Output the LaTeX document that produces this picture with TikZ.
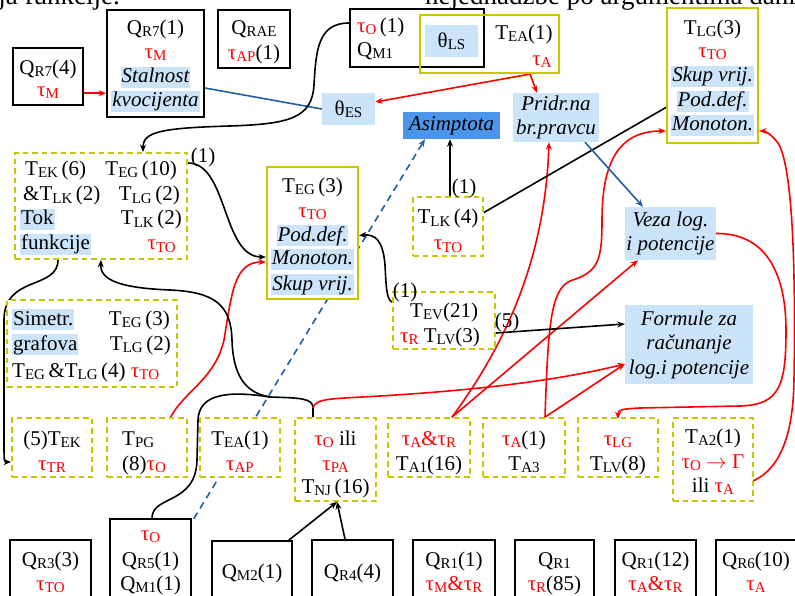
\documentclass[tikz,border=0pt]{standalone}
\usepackage{fontspec}
\setmainfont{Liberation Serif}
\usetikzlibrary{arrows.meta}
\definecolor{yel}{RGB}{200,200,0}
\definecolor{hl}{RGB}{204,228,250}
\definecolor{asimc}{RGB}{75,150,235}
\definecolor{bline}{RGB}{30,95,165}
\definecolor{rd}{RGB}{255,0,0}
\newcommand\dgf{\fontsize{21}{24.5}\selectfont}
\newcommand\sbx[1]{\raisebox{-2pt}{\fontsize{15}{15}\selectfont #1}}
\newcommand\rtau[1]{\textcolor{rd}{τ\sbx{#1}}}
\pgfdeclarelayer{back}
\pgfdeclarelayer{conn}
\pgfsetlayers{back,conn,main}
\begin{document}
\begin{tikzpicture}[x=1pt,y=-1pt,
 every node/.style={font=\dgf, inner sep=0pt},
 qb/.style={draw=black, line width=1.7pt, fill=white},
 qn/.style={draw=black, line width=1.7pt},
 ys/.style={draw=yel, line width=2.2pt, fill=white},
 yn/.style={draw=yel, line width=2.2pt},
 yd/.style={draw=yel, line width=1.8pt, dash pattern=on 5.5pt off 4pt, fill=white},
 hlf/.style={fill=hl, align=center},
 tx/.style={anchor=base},
 txw/.style={anchor=base west},
 txe/.style={anchor=base east},
 hli/.style={anchor=base, fill=hl, inner xsep=1pt, text height=16pt, text depth=5pt, font=\dgf\itshape},
 hlw/.style={anchor=base west, fill=hl, inner xsep=1pt, text height=16pt, text depth=5pt},
 con/.style={line width=1.6pt, -{Stealth[length=7.5pt,width=6pt]}},
 blk/.style={con, draw=black},
 rdl/.style={con, draw=rd},
 bll/.style={con, draw=bline},
]
\begin{pgfonlayer}{back}
\fill[white] (0,0) rectangle (795,596);
\end{pgfonlayer}
\useasboundingbox (0,0) rectangle (795,596);

% header (cut off page text)
\node[anchor=base east, font=\fontsize{27}{30}\selectfont] (hdrL) at (120,5) {nja funkcije.};
\node[anchor=base west, font=\fontsize{27}{30}\selectfont] (hdrR) at (425,5) {nejednadžbe po argumentima danih};

% ---------- boxes ----------
\node[qb, minimum width=70pt, minimum height=57pt] (qr74) at (48,76.5) {};
\node[qb, minimum width=97pt, minimum height=107pt] (qr71) at (155.5,63.5) {};
\node[qb, minimum width=72pt, minimum height=58pt] (qrae) at (254,39) {};
\node[qn, minimum width=134pt, minimum height=58pt] (tom1) at (417,38) {};
\node[yn, minimum width=139pt, minimum height=58pt] (yea) at (489.5,44) {};
\node[ys, minimum width=91pt, minimum height=135pt] (tlg3) at (712.5,75.5) {};
\node[yd, minimum width=172pt, minimum height=106pt] (tek) at (101,206) {};
\node[ys, minimum width=91pt, minimum height=132pt] (teg3) at (312.5,233) {};
\node[yd, minimum width=70pt, minimum height=59pt] (tlk4) at (448,226.5) {};
\node[yd, minimum width=102pt, minimum height=57pt] (tev) at (444,320.5) {};
\node[yd, minimum width=170pt, minimum height=87pt] (sim) at (92,343.5) {};
\node[yd, minimum width=80pt, minimum height=59pt] (b1) at (52,447.5) {};
\node[yd, minimum width=80pt, minimum height=59pt] (b2) at (147,447.5) {};
\node[yd, minimum width=80pt, minimum height=59pt] (b3) at (240,447.5) {};
\node[yd, minimum width=81pt, minimum height=83pt] (b4) at (335.5,459.5) {};
\node[yd, minimum width=82pt, minimum height=59pt] (b5) at (429,447.5) {};
\node[yd, minimum width=82pt, minimum height=59pt] (b6) at (524,447.5) {};
\node[yd, minimum width=80pt, minimum height=59pt] (b7) at (618,447.5) {};
\node[yd, minimum width=80pt, minimum height=83pt] (b8) at (713,459.5) {};
\node[qb, minimum width=81pt, minimum height=80pt] (qr3) at (50.5,580) {};
\node[qb, minimum width=81pt, minimum height=101pt] (qr5) at (150.5,569.5) {};
\node[qb, minimum width=80pt, minimum height=79pt] (qm2) at (252,580.5) {};
\node[qb, minimum width=81pt, minimum height=80pt] (qr4) at (352.5,580) {};
\node[qb, minimum width=82pt, minimum height=80pt] (qr1a) at (454,580) {};
\node[qb, minimum width=79pt, minimum height=80pt] (qr1b) at (554.5,580) {};
\node[qb, minimum width=81pt, minimum height=80pt] (qr1c) at (655.5,580) {};
\node[qb, minimum width=81pt, minimum height=80pt] (qr6) at (756.5,580) {};

% filled label boxes
\node[hlf, minimum width=53pt, minimum height=32pt] (thLS) at (451.5,41) {θ\sbx{LS}};
\node[hlf, minimum width=53pt, minimum height=32pt] (thES) at (348.5,109) {θ\sbx{ES}};
\node[fill=asimc, font=\dgf\itshape, minimum width=97pt, minimum height=27pt] (asim) at (451.5,125.5) {Asimptota};
\node[hlf, font=\dgf\itshape, minimum width=86pt, minimum height=49pt] (pridr) at (556,117.5) {Pridr.na\\br.pravcu};
\node[hlf, font=\dgf\itshape, minimum width=91pt, minimum height=53pt] (veza) at (670.5,233.5) {Veza log.\\i potencije};
\node[hlf, font=\dgf\itshape, minimum width=128pt, minimum height=79pt] (formule) at (689,344.5) {Formule za\\računanje\\log.i potencije};

% ---------- texts ----------
\node[tx] (qr74a) at (48,75) {Q\sbx{R7}(4)};
\node[tx] (qr74m) at (48,97) {\rtau{M}};
\node[tx] (qr71a) at (155.5,35) {Q\sbx{R7}(1)};
\node[tx] (qr71m) at (155.5,59) {\rtau{M}};
\node[hli] (qr71s) at (155.5,83) {Stalnost};
\node[hli] (qr71k) at (155.5,107) {kvocijenta};
\node[tx] (qraea) at (254,35) {Q\sbx{RAE}};
\node[tx] (qraeb) at (254,60) {\rtau{AP}(1)};
\node[txw] (tom1a) at (357,33) {\rtau{O}\,(1)};
\node[txw] (tom1b) at (357,57) {Q\sbx{M1}};
\node[tx] (tea1) at (524,40) {T\sbx{EA}(1)};
\node[tx] (tea2) at (542,66) {\rtau{A}};
\node[tx] (tlg3a) at (712.5,35) {T\sbx{LG}(3)};
\node[tx] (tlg3b) at (712.5,58) {\rtau{TO}};
\node[hli] (tlgsk) at (712.5,82) {Skup vrij.};
\node[hli] (tlgpod) at (712.5,107) {Pod.def.};
\node[hli] (tlgmon) at (712.5,131) {Monoton.};

\node[txw] (teka) at (25,176) {T\sbx{EK}\,(6)};
\node[txw] (tekb) at (23,201) {\&T\sbx{LK}\,(2)};
\node[hlw] (tekc) at (20,225) {Tok};
\node[hlw] (tekd) at (20,250) {funkcije};
\node[txe] (teke) at (177,176) {T\sbx{EG}\,(10)};
\node[txe] (tekf) at (180,201) {T\sbx{LG}\,(2)};
\node[txe] (tekg) at (182,225) {T\sbx{LK}\,(2)};
\node[txe] (tekh) at (176,250) {\rtau{TO}};
\node[tx] (lab1) at (203,163) {(1)};

\node[tx] (teg3a) at (312.5,193) {T\sbx{EG}\,(3)};
\node[tx] (teg3b) at (312.5,218) {\rtau{TO}};
\node[hli] (tegpod) at (312.5,241) {Pod.def.};
\node[hli] (tegmon) at (312.5,265) {Monoton.};
\node[hli] (tegsk) at (312.5,290) {Skup vrij.};

\node[tx] (tlk4a) at (448,224) {T\sbx{LK}\,(4)};
\node[tx] (tlk4b) at (448,250) {\rtau{TO}};
\node[tx] (lab2) at (464,194) {(1)};

\node[txw] (teva) at (410,317) {T\sbx{EV}(21)};
\node[txw] (tevb) at (400,342) {\rtau{R}\ T\sbx{LV}(3)};
\node[tx] (lab3) at (405,297) {(1)};
\node[tx] (lab4) at (507,327) {(5)};

\node[hlw] (sima) at (12,325) {Simetr.};
\node[hlw] (simb) at (12,350) {grafova};
\node[txe] (simc) at (170,325) {T\sbx{EG}\,(3)};
\node[txe] (simd) at (171,350) {T\sbx{LG}\,(2)};
\node[txw] (sime) at (12,377) {T\sbx{EG}\,\&T\sbx{LG}\,(4) \rtau{TO}};

\node[tx] (b1a) at (52,445) {(5)T\sbx{EK}};
\node[tx] (b1b) at (52,470) {\rtau{TR}};
\node[txw] (b2a) at (122,445) {T\sbx{PG}};
\node[txw] (b2b) at (122,470) {(8)\rtau{O}};
\node[tx] (b3a) at (240,445) {T\sbx{EA}(1)};
\node[tx] (b3b) at (240,470) {\rtau{AP}};
\node[tx] (b4a) at (335.5,445) {\rtau{O} ili};
\node[tx] (b4b) at (335.5,470) {\rtau{PA}};
\node[tx] (b4c) at (335.5,493) {T\sbx{NJ}\,(16)};
\node[tx] (b5a) at (429,445) {\rtau{A}\textcolor{rd}{\&}\rtau{R}};
\node[tx] (b5b) at (429,470) {T\sbx{A1}(16)};
\node[tx] (b6a) at (524,445) {\rtau{A}(1)};
\node[tx] (b6b) at (524,470) {T\sbx{A3}};
\node[tx] (b7a) at (618,445) {\rtau{LG}};
\node[tx] (b7b) at (618,470) {T\sbx{LV}(8)};
\node[tx] (b8a) at (713,443) {T\sbx{A2}(1)};
\node[tx] (b8b) at (713,468) {\rtau{O} \textcolor{rd}{$\rightarrow$ Γ}};
\node[tx] (b8c) at (713,492) {ili \rtau{A}};

\node[tx] (qr3a) at (50.5,566) {Q\sbx{R3}(3)};
\node[tx] (qr3b) at (50.5,590) {\rtau{TO}};
\node[tx] (qr5a) at (150.5,540) {\rtau{O}};
\node[tx] (qr5b) at (150.5,566) {Q\sbx{R5}(1)};
\node[tx] (qr5c) at (150.5,590) {Q\sbx{M1}(1)};
\node[tx] (qm2a) at (252,578) {Q\sbx{M2}(1)};
\node[tx] (qr4a) at (352.5,578) {Q\sbx{R4}(4)};
\node[tx] (qr1aa) at (454,566) {Q\sbx{R1}(1)};
\node[tx] (qr1ab) at (454,590) {\rtau{M}\textcolor{rd}{\&}\rtau{R}};
\node[tx] (qr1ba) at (554.5,566) {Q\sbx{R1}};
\node[tx] (qr1bb) at (554.5,590) {\rtau{R}(85)};
\node[tx] (qr1ca) at (655.5,566) {Q\sbx{R1}(12)};
\node[tx] (qr1cb) at (655.5,590) {\rtau{A}\textcolor{rd}{\&}\rtau{R}};
\node[tx] (qr6a) at (756,566) {Q\sbx{R6}(10)};
\node[tx] (qr6b) at (756,590) {\rtau{A}};

% ---------- connectors ----------
\coordinate (eaout) at ([xshift=40.5pt]yea.south);
\coordinate (jn) at (270,397);
\coordinate (b4r) at (313,408);
\begin{pgfonlayer}{conn}
\draw[rdl] ([xshift=3pt]qr74m.east) -- (qr71.west |- qr74m.east);
\draw[draw=bline, line width=1.6pt] ([yshift=-24.5pt]qr71.east) -- (thES.west);
\draw[rdl] (eaout) -- ([yshift=7pt]thES.east);
\draw[rdl] (eaout) -- ([xshift=-19pt]pridr.north);
\draw[blk] ([yshift=15pt]tom1.west) .. controls (318,23) and (316,50) .. (314,85) .. controls (312,118) and (290,124) .. (230,126) .. controls (160,128) and (143,132) .. ([xshift=42pt]tek.north);
\draw[blk] ([yshift=43pt]tek.east) .. controls (228,163) and (222,257) .. ([yshift=-24pt]teg3.west);
\draw[rdl] ([xshift=-3pt,yshift=6pt]b2b.north east) .. controls (163,395) and (212,392) .. (224,340) .. controls (232,290) and (235,262) .. ([yshift=-29pt]teg3.west);
\draw[blk] ([xshift=-43pt]tek.south) .. controls (58,290) and (4,275) .. (4,320) -- (4,440) .. controls (4,462) and (4,462) .. ([yshift=-14.5pt]b1.west);
\draw[blk] ([xshift=-22.5pt]b4.north) -- (b4r) .. controls (313,398) and (300,398) .. (jn) .. controls (245,393) and (233,375) .. (232,340) .. controls (231,305) and (215,292) .. (170,290) .. controls (120,288) and (100,280) .. (tek.south);
\draw[line width=1.6pt] ([xshift=1.5pt]qr5.north) .. controls (152,495) and (196,505) .. (197,460) -- (198,420) .. controls (199,395) and (225,390) .. (jn);
\draw[rdl] (b4r) .. controls (316,398) and (330,399) .. (380,396) .. controls (480,390) and (560,380) .. ([yshift=-19.5pt]formule.west);
\draw[rdl] ([xshift=23pt]b5.north) .. controls (505,345) and (545,260) .. ([xshift=-7pt]pridr.south);
\draw[rdl] ([xshift=23pt]b5.north) -- ([xshift=-32.5pt]veza.south);
\draw[rdl] ([xshift=21pt]b6.north) -- ([yshift=-19.5pt]formule.west);
\draw[rdl] ([xshift=21pt]b6.north) .. controls (548,330) and (550,290) .. (570,281) .. controls (598,272) and (602,262) .. (602,220) .. controls (602,160) and (620,131) .. (tlg3.west |- tlgmon.base);
\draw[rdl] (veza.east) .. controls (770,233) and (786,280) .. (786,330) .. controls (786,385) and (780,405) .. (740,406) -- (640,408) .. controls (620,409) and (618,410) .. ([yshift=-2pt]b7.north);
\draw[rdl] ([xshift=2pt]b8c.east) .. controls (778,480) and (793,440) .. (794,380) .. controls (796,260) and (792,165) .. (778,143) .. controls (770,133) and (765,131) .. (tlg3.east |- tlgmon.base);
\draw[blk] ([yshift=-12.5pt]tev.east) -- ([yshift=20.5pt]formule.west);
\draw[blk] ([yshift=-11pt]tev.north west) .. controls (386,300) and (386,282) .. (385,265) .. controls (383,240) and (375,234) .. (teg3.east |- tegpod);
\draw[blk] ([xshift=2pt]tlk4.north) -- ([xshift=2pt]tlk4.north |- asim.south);
\draw[blk] ([yshift=14pt]tlk4.east) -- (tlgpod.west);
\draw[bll] ([xshift=29pt]pridr.south) -- ([xshift=-27.5pt]veza.north);
\draw[bll, dash pattern=on 7pt off 5pt] ([xshift=-10.5pt,yshift=-21pt]qr5.north east) -- ([xshift=-26.5pt]asim.south);
\draw[blk] ([xshift=-4pt]qm2.north east) -- ([xshift=1.5pt]b4.south);
\draw[blk] ([xshift=-7.5pt]qr4.north) -- ([xshift=1.5pt]b4.south);
\end{pgfonlayer}
\end{tikzpicture}
\end{document}
